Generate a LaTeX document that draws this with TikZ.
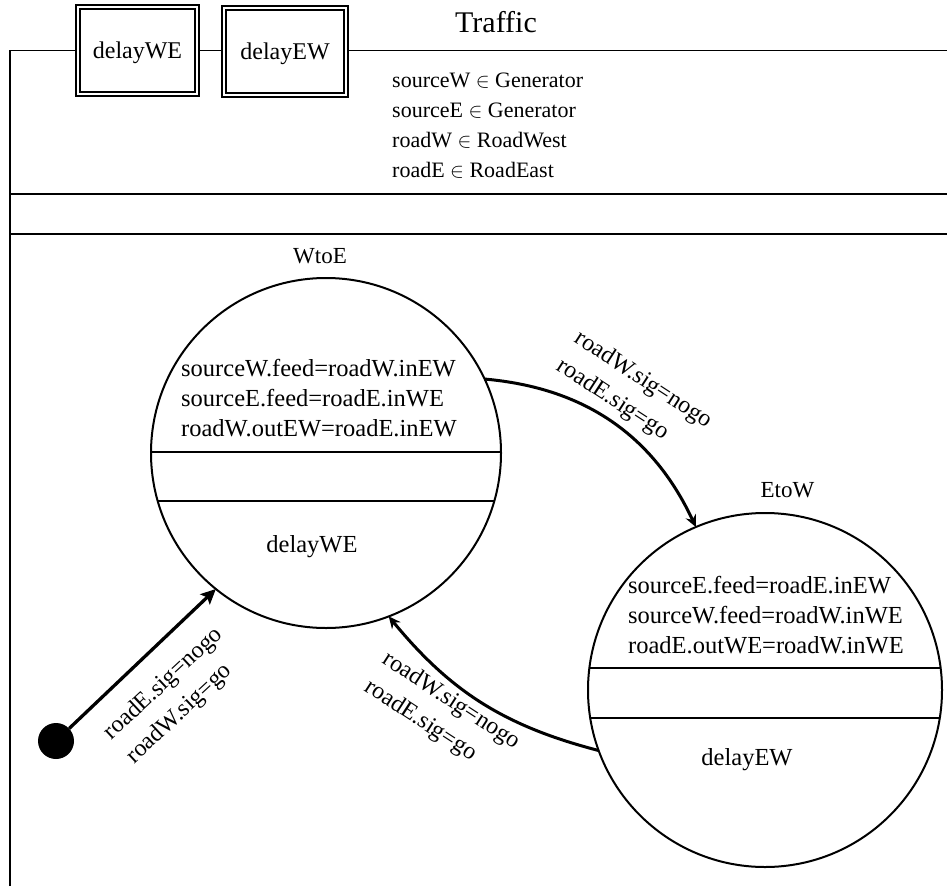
\documentclass[tikz,border=0pt]{standalone}
\usepackage{fontspec}
\setmainfont{Liberation Serif}
\usetikzlibrary{arrows.meta,calc}
\begin{document}
\begin{tikzpicture}[x=1pt,y=-1pt,
  frame/.style={line width=1.8pt},
  dbox/.style={draw, double, double distance=2.2pt, line width=2pt,
    minimum width=119pt, minimum height=87pt, inner sep=0pt, outer sep=3.1pt,
    font=\fontsize{24}{30}\selectfont, text depth=0pt},
  statecirc/.style={draw, circle, line width=2pt, inner sep=0pt, outer sep=0pt},
  chord/.style={line width=2pt},
  stxt/.style={font=\fontsize{24.5}{30}\selectfont, inner sep=0pt, align=left},
  sname/.style={font=\fontsize{23}{28}\selectfont, inner sep=0pt, anchor=base},
  lbl/.style={font=\fontsize{24}{33}\selectfont, align=left, inner sep=0pt},
  trans/.style={line width=3pt, -{Stealth[length=12pt,width=11pt,inset=4pt]}},
  initarrow/.style={line width=3.3pt, -{Stealth[length=15pt,width=14pt,inset=3pt]}}
]
\useasboundingbox (0,0) rectangle (947,886);

% top boxes
\node[dbox] (dWE) at (137.5,50.5) {delayWE};
\node[dbox, minimum width=122pt] (dEW) at (285,51.5) {delayEW};

% frame
\coordinate (ftl) at (10,50.5);
\coordinate (fbl) at (10,886);
\coordinate (ftr) at (947,50.5);
\coordinate (s1l) at (10,194);
\coordinate (s1r) at (947,194);
\coordinate (s2l) at (10,234);
\coordinate (s2r) at (947,234);
\draw[frame] (fbl) -- (ftl) -- (dWE.west);
\draw[frame] (dWE.east) -- (dWE.east -| dEW.west);
\draw[frame] (dEW.east |- ftr) -- (ftr);
\draw[frame] (s1l) -- (s1r);
\draw[frame] (s2l) -- (s2r);

% title and attributes
\node[font=\fontsize{30}{36}\selectfont, anchor=base, inner sep=0pt] (title) at (496,32) {Traffic};
\node[font=\fontsize{22}{30}\selectfont, align=left, anchor=north west, inner sep=0pt] (attrs) at (392,73)
  {sourceW $\in$ Generator\\sourceE $\in$ Generator\\roadW $\in$ RoadWest\\roadE $\in$ RoadEast};

% states
\node[statecirc, minimum size=350pt] (WtoE) at (326,453) {};
\node[statecirc, minimum size=354pt] (EtoW) at (765,690) {};
\node[sname] (WtoEname) at (320,263) {WtoE};
\node[sname] (EtoWname) at (787.5,497) {EtoW};

\draw[chord] ($(WtoE.center)+(-175,-1)$) -- ($(WtoE.center)+(175,-1)$);
\draw[chord] ($(WtoE.center)+(-168.3,48)$) -- ($(WtoE.center)+(168.3,48)$);
\draw[chord] ($(EtoW.center)+(-175.6,-22)$) -- ($(EtoW.center)+(175.6,-22)$);
\draw[chord] ($(EtoW.center)+(-174.8,28)$) -- ($(EtoW.center)+(174.8,28)$);

\node[stxt, anchor=north west] (WtoEact) at (181,359)
  {sourceW.feed=roadW.inEW\\sourceE.feed=roadE.inWE\\roadW.outEW=roadE.inEW};
\node[stxt, anchor=north west] (EtoWact) at (628,576.5)
  {sourceE.feed=roadE.inEW\\sourceW.feed=roadW.inWE\\roadE.outWE=roadW.inWE};
\node[stxt, anchor=base] (WtoEdo) at (312,552) {delayWE};
\node[stxt, anchor=base] (EtoWdo) at (747,765) {delayEW};

% initial
\node[circle, fill=black, minimum size=36pt, inner sep=0pt] (init) at (56,741) {};
\draw[initarrow] (init) -- (WtoE.231);

% transitions
\draw[trans] (WtoE.25) to[bend left=30] (EtoW.113);
\draw[trans] (EtoW.200) to[bend left=18] (WtoE.291);

% labels
\node[lbl, rotate=-33] (lab1) at (634,394) {roadW.sig=nogo\\roadE.sig=go};
\node[lbl, rotate=-33] (lab2) at (442,715) {roadW.sig=nogo\\roadE.sig=go};
\node[lbl, rotate=43] (lab3) at (175,696) {roadE.sig=nogo\\roadW.sig=go};
\end{tikzpicture}
\end{document}
